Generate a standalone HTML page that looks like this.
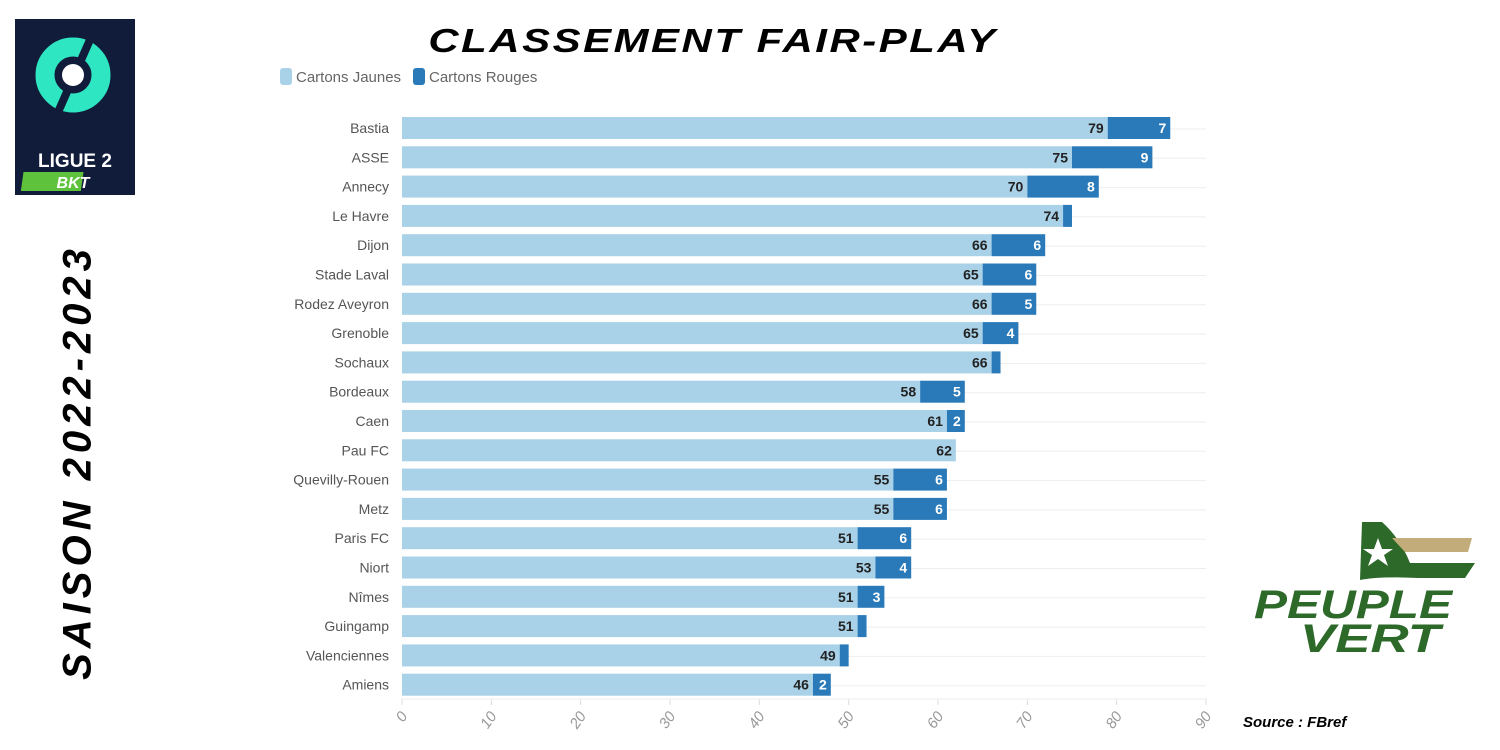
<!DOCTYPE html>
<html><head><meta charset="utf-8"><style>
body{margin:0;width:1500px;height:750px;background:#fff;overflow:hidden;font-family:"Liberation Sans",sans-serif;position:relative}
.title{position:absolute;left:0;width:1426px;top:22px;text-align:center;font-size:33px;font-weight:900;font-style:italic;letter-spacing:2px;transform:scaleX(1.27);transform-origin:713px 0}
.saison{position:absolute;left:78px;top:462px;transform:translate(-50%,-50%) rotate(-90deg);font-size:40px;font-weight:900;font-style:italic;letter-spacing:5px;white-space:nowrap}
</style></head><body>
<svg style="position:absolute;left:15px;top:19px" width="120" height="176">
<rect width="120" height="176" fill="#111b3a"/>
<circle cx="58" cy="56" r="28" fill="none" stroke="#2ee6c2" stroke-width="19"/>
<line x1="78" y1="14" x2="40" y2="100" stroke="#111b3a" stroke-width="8"/>
<circle cx="58" cy="56" r="11" fill="#fff"/>
<text x="60" y="148" text-anchor="middle" fill="#fff" font-size="19" font-weight="bold">LIGUE 2</text>
<rect x="30" y="153" width="60" height="19" fill="#5fc23c" transform="skewX(-8)"/>
<text x="58" y="169" text-anchor="middle" fill="#fff" font-size="16" font-weight="900" font-style="italic">BKT</text>
</svg>
<div class="title">CLASSEMENT FAIR-PLAY</div>
<div class="saison">SAISON 2022-2023</div>
<svg style="position:absolute;left:1250px;top:518px" width="230" height="140">
<path d="M112 4 L132 4 Q150 20 160 45 L225 45 L215 60 L168 60 Q130 58 110 62 Z" fill="#2d6a2a"/>
<path d="M142 20 L222 20 L218 34 L155 34 Z" fill="#c2ad7a"/>
<polygon points="128,20 132,31 143,31 134,37 138,48 128,41 118,48 122,37 113,31 124,31" fill="#fff"/>
<text x="4" y="100" fill="#2d6a2a" font-size="40" font-weight="900" font-style="italic" textLength="198" lengthAdjust="spacingAndGlyphs">PEUPLE</text>
<text x="50" y="134" fill="#2d6a2a" font-size="40" font-weight="900" font-style="italic" textLength="140" lengthAdjust="spacingAndGlyphs">VERT</text>
</svg>
<div style="position:absolute;left:1243px;top:714px;font-size:15px;font-weight:bold;font-style:italic">Source : FBref</div>
<svg id="chart" style="position:absolute;left:0;top:0" width="1500" height="750"></svg>
<script>
const teams=["Bastia","ASSE","Annecy","Le Havre","Dijon","Stade Laval","Rodez Aveyron","Grenoble","Sochaux","Bordeaux","Caen","Pau FC","Quevilly-Rouen","Metz","Paris FC","Niort","Nîmes","Guingamp","Valenciennes","Amiens"];
const yellow=[79,75,70,74,66,65,66,65,66,58,61,62,55,55,51,53,51,51,49,46];
const red=[7,9,8,1,6,6,5,4,1,5,2,0,6,6,6,4,3,1,1,2];
const ticks=[0,10,20,30,40,50,60,70,80,90];
const svg=document.getElementById('chart');const NS='http://www.w3.org/2000/svg';
const x0=402,x1=1206,xmax=90,yTop=128,step=29.3,bh=22;
const X=v=>x0+v/xmax*(x1-x0);const Y=i=>yTop+i*step;
function mk(t,a,p){const e=document.createElementNS(NS,t);for(const k in a)e.setAttribute(k,a[k]);(p||svg).appendChild(e);return e;}
let g=mk('g',{});
mk('rect',{x:280,y:68,width:12,height:17,rx:3,fill:'#a9d1e7'},g);
let t=mk('text',{x:296,y:82,'font-size':15,fill:'#666'},g);t.textContent='Cartons Jaunes';

mk('rect',{x:413,y:68,width:12,height:17,rx:3,fill:'#2a7ab9'},g);
t=mk('text',{x:429,y:82,'font-size':15,fill:'#666'},g);t.textContent='Cartons Rouges';

teams.forEach((n,i)=>{const l=mk('line',{x1:x0,x2:x1,y1:Y(i)+1,y2:Y(i)+1,stroke:'#eee'});
});
ticks.forEach(v=>{const l=mk('line',{x1:X(v),x2:X(v),y1:699,y2:705,stroke:'#ddd'});

const tx=mk('text',{x:X(v)+6,y:716,'font-size':15,fill:'#999','font-style':'italic','text-anchor':'end',transform:`rotate(-55 ${X(v)+6} 716)`});
tx.textContent=v;});
const ax=mk('line',{x1:x0,x2:x1,y1:699,y2:699,stroke:'#eee'});
teams.forEach((n,i)=>{const y=Y(i);
const lb=mk('text',{x:389,y:y+5,'font-size':14,fill:'#555','text-anchor':'end'});lb.textContent=n;

const r1=mk('rect',{x:x0,y:y-bh/2,width:X(yellow[i])-x0,height:bh,fill:'#a9d1e7'});

const v1=mk('text',{x:X(yellow[i])-4,y:y+5,'font-size':14,'font-weight':'bold',fill:'#222','text-anchor':'end'});v1.textContent=yellow[i];

if(red[i]>0){const r2=mk('rect',{x:X(yellow[i]),y:y-bh/2,width:X(red[i])-x0,height:bh,fill:'#2a7ab9'});

if(red[i]>1){const v2=mk('text',{x:X(yellow[i]+red[i])-4,y:y+5,'font-size':14,'font-weight':'bold',fill:'#fff','text-anchor':'end'});v2.textContent=red[i];
}}
});
</script>
</body></html>
